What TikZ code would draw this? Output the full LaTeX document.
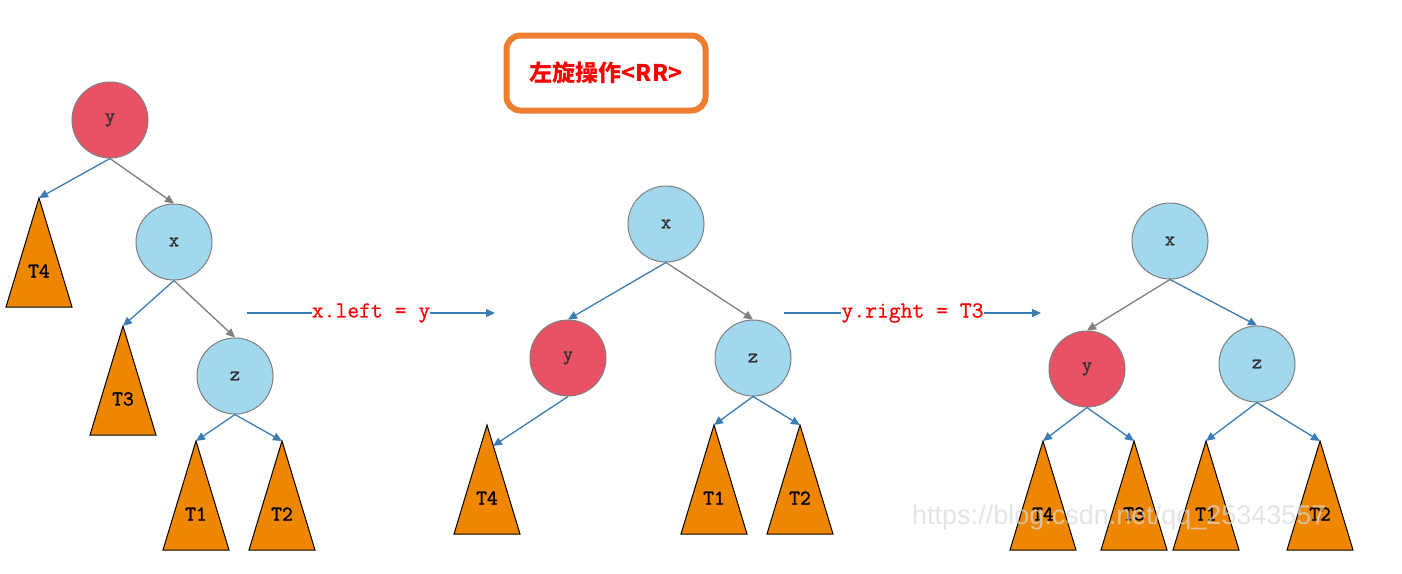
\documentclass[tikz,border=0pt]{standalone}
\usepackage{fontspec}
\newfontfamily\cjk{Noto Sans CJK SC}
\newfontfamily\lmm{Latin Modern Mono}[FakeBold=1.5]
\newfontfamily\lmop{Latin Modern Mono}[FakeBold=0.6]
\newfontfamily\wm{Liberation Sans}
\usetikzlibrary{arrows.meta}
\definecolor{nred}{HTML}{E85264}
\definecolor{nblue}{HTML}{A2D8EE}
\definecolor{tor}{HTML}{EE8600}
\definecolor{ablue}{HTML}{3B7DB3}
\definecolor{agray}{HTML}{7F7F7F}
\definecolor{boxor}{HTML}{ED7D31}
\newcommand\subtree[4]{%
  \draw[fill=tor,line width=1pt,line join=miter] (#2,#3) -- ++(-33,109) -- ++(66,0) -- cycle;
  \coordinate (#1) at (#2,#3);
  \node[tlabel] (#1l) at (#2,#3+73) {#4};
}
\begin{document}
\begin{tikzpicture}[x=1pt,y=-1pt,
  rnode/.style={circle,draw=agray,line width=1pt,fill=nred,minimum size=76pt,inner sep=0pt,
    font=\lmm\fontsize{20}{20}\selectfont,text=black!80},
  bnode/.style={rnode,fill=nblue},
  tlabel/.style={font=\lmm\fontsize{21}{21}\selectfont,text=black},
  barrow/.style={draw=ablue,line width=1.3pt,-{Triangle[length=9pt,width=8pt]}},
  garrow/.style={barrow,draw=agray},
  oplabel/.style={font=\lmop\fontsize{23}{23}\selectfont,text=red,fill=white,inner sep=0pt}
]
\useasboundingbox (0,0) rectangle (1402,573);
\fill[white] (0,0) rectangle (1402,573);

% title
\node[draw=boxor,line width=6pt,rounded corners=14pt,minimum width=199pt,minimum height=75pt,
  font=\cjk\bfseries\fontsize{23}{23}\selectfont,text=red] (title) at (606,73) {左旋操作<RR>};

% left tree
\node[rnode] (y1) at (110,120) {y};
\node[bnode] (x1) at (174,242) {x};
\node[bnode] (z1) at (235,376) {z};
\subtree{T4a}{39}{198}{T4}
\subtree{T3a}{123}{326}{T3}
\subtree{T1a}{196}{441}{T1}
\subtree{T2a}{282}{441}{T2}
\draw[barrow] (y1.south) -- (T4a);
\draw[garrow] (y1.south) -- (x1.north);
\draw[barrow] (x1.south) -- (T3a);
\draw[garrow] (x1.south) -- (z1.north);
\draw[barrow] (z1.south) -- (T1a);
\draw[barrow] (z1.south) -- (T2a);

% arrow 1
\coordinate (a1s) at (247,313);
\coordinate (a1e) at (495,313);
\draw[barrow] (a1s) -- (a1e) node[midway,oplabel] (l1) {x.left = y};

% middle tree
\node[bnode] (x2) at (666,224) {x};
\node[rnode] (y2) at (568,358) {y};
\node[bnode] (z2) at (753,358) {z};
\subtree{T4b}{487}{425}{T4}
\subtree{T1b}{714}{425}{T1}
\subtree{T2b}{800}{425}{T2}
\coordinate (T4bedge) at (493,446);
\draw[barrow] (x2.south) -- (y2.north);
\draw[garrow] (x2.south) -- (z2.north);
\draw[barrow] (y2.south) -- (T4bedge);
\draw[barrow] (z2.south) -- (T1b);
\draw[barrow] (z2.south) -- (T2b);

% arrow 2
\coordinate (a2s) at (784,313);
\coordinate (a2e) at (1041,313);
\draw[barrow] (a2s) -- (a2e) node[midway,oplabel] (l2) {y.right = T3};

% right tree
\node[bnode] (x3) at (1170,241) {x};
\node[rnode] (y3) at (1087,369) {y};
\node[bnode] (z3) at (1257,364) {z};
\subtree{T4c}{1043}{441}{T4}
\subtree{T3c}{1134}{441}{T3}
\subtree{T1c}{1206}{441}{T1}
\subtree{T2c}{1320}{441}{T2}
\draw[garrow] (x3.south) -- (y3.north);
\draw[barrow] (x3.south) -- (z3.north);
\draw[barrow] (y3.south) -- (T4c);
\draw[barrow] (y3.south) -- (T3c);
\draw[barrow] (z3.south) -- (T1c);
\draw[barrow] (z3.south) -- (T2c);

% watermark
\node[font=\wm\fontsize{27}{27}\selectfont,text=gray!30,opacity=0.7,anchor=base west,inner sep=0pt]
  (wm) at (912,524) {https://blog.csdn.net/qq\_25343557};
\end{tikzpicture}
\end{document}
